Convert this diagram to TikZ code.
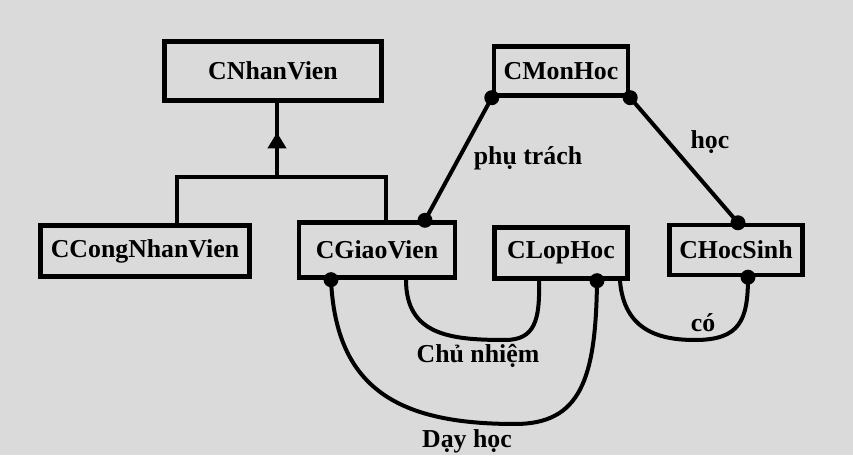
\documentclass[tikz,border=0pt]{standalone}
\usepackage{fontspec}
\setmainfont{Liberation Serif}
\usetikzlibrary{arrows.meta}
\usetikzlibrary{decorations.markings}
\definecolor{bggray}{RGB}{218,218,218}

\begin{document}
\begin{tikzpicture}[x=0.5pt,y=-0.5pt]
    \tikzset{
      classbox/.style={
        rectangle,
        draw,
        line width=2.2pt,
        fill=bggray,
        inner sep=0mm,
        font=\fontsize{12.9}{15}\selectfont\bfseries
      },
      link/.style={line width=2pt},
      dot/.style={circle,fill=black,inner sep=0mm,minimum size=7.5pt},
      lbl/.style={font=\fontsize{12.9}{15}\selectfont\bfseries}
    }

    %Background
    \fill[bggray] (0,0) rectangle (853,455);

    %Top nodes
    \node[classbox,minimum width=108.5pt,minimum height=29.5pt] at (273,71) (nv) {CNhanVien};
    \node[classbox,minimum width=67pt,minimum height=24.5pt] at (561,71) (mh) {CMonHoc};

    %Bottom nodes
    \node[classbox,minimum width=104.5pt,minimum height=25.5pt] at (145,251) (cnv) {CCongNhanVien};
    \node[classbox,minimum width=78pt,minimum height=27.5pt] at (377,250) (gv) {CGiaoVien};
    \node[classbox,minimum width=66.5pt,minimum height=25.5pt] at (561,253) (lh) {CLopHoc};
    \node[classbox,minimum width=66.5pt,minimum height=25pt] at (736,250) (hs) {CHocSinh};

    %Inheritance
    \coordinate (jn) at (277,177);
    \draw[link,decoration={markings,mark=at position 0.6 with {\arrow{Triangle[width=9pt,length=8pt]}}},postaction={decorate}]
      (jn) -- (jn |- nv.south);
    \draw[link] ([xshift=16pt]cnv.north) |- (jn) -| ([xshift=4.5pt]gv.north);

    %Dots
    \node[dot] at (mh.south west) (mh1) {};
    \node[dot] at (mh.south east) (mh2) {};
    \node[dot] at ([xshift=24pt]gv.north) (gv1) {};
    \node[dot] at ([xshift=-23pt]gv.south) (gv2) {};
    \node[dot] at ([xshift=1pt]hs.north) (hs1) {};
    \node[dot] at ([xshift=6pt]hs.south) (hs2) {};
    \node[dot] at ([xshift=18pt]lh.south) (lh1) {};

    %phu trach, hoc
    \draw[link] (mh1.center) -- (gv1.center);
    \draw[link] (mh2.center) -- (hs1.center);
    \node[lbl] at (528,158) (lpt) {phụ trách};
    \node[lbl] at (710,142) (lhoc) {học};

    %Chu nhiem
    \coordinate (cn) at (505,340);
    \draw[link] ([xshift=14.5pt]gv.south) .. controls (406,335) and (450,340) .. (cn)
      .. controls (535,340) and (540,320) .. ([xshift=-11pt]lh.south);
    \node[lbl] at (478,356) (lcn) {Chủ nhiệm};

    %Co
    \coordinate (co) at (695,340);
    \draw[link] ([xshift=29.5pt]lh.south) .. controls (624,331) and (660,340) .. (co)
      .. controls (740,340) and (748,320) .. (hs2.center);
    \node[lbl] at (703,323) (lco) {có};

    %Day hoc
    \coordinate (dh) at (515,424);
    \draw[link] (gv2.center) .. controls (336,390) and (400,424) .. (dh)
      .. controls (580,424) and (596,380) .. (lh1.center);
    \node[lbl] at (467,441) (ldh) {Dạy học};
\end{tikzpicture}
\end{document}
